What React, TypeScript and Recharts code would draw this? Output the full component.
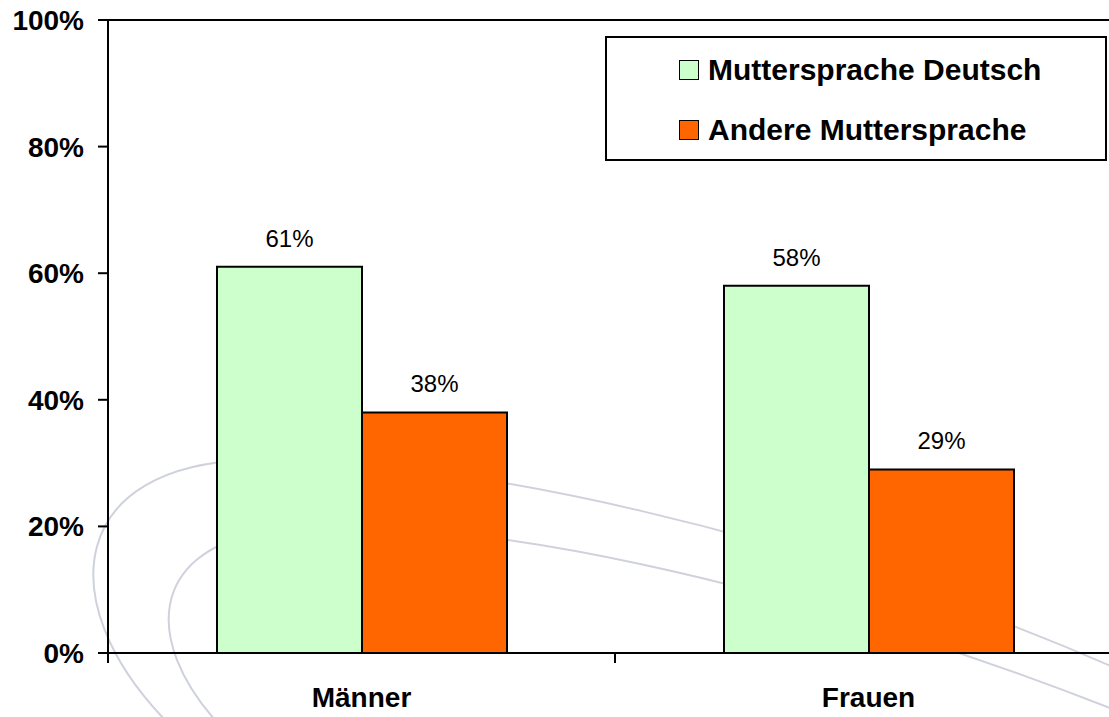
import { BarChart, Bar, XAxis, YAxis, Legend, LabelList, ReferenceLine } from "recharts";

const categories = ["Männer", "Frauen"];
const deutsch = [61, 58];
const andere = [38, 29];
const seriesNames = ["Muttersprache Deutsch", "Andere Muttersprache"];
const seriesColors = ["#CCFFCC", "#FF6600"];
const yTicks = [0, 20, 40, 60, 80, 100];

const data = categories.map((c, i) => ({ name: c, deutsch: deutsch[i], andere: andere[i] }));

const FONT = '"Liberation Sans", Arial, sans-serif';

const CategoryTick = (props: any) => {
  const { x, y, payload } = props;
  const half = payload?.offset ?? 0;
  return (
    <g>
      <line x1={x - half} x2={x - half} y1={y - 8} y2={y + 2} stroke="#000" strokeWidth={2} />
      <line x1={x + half} x2={x + half} y1={y - 8} y2={y + 2} stroke="#000" strokeWidth={2} />
      <text x={x} y={y + 46} textAnchor="middle" fontFamily={FONT} fontSize={28} fontWeight="bold" fill="#000">
        {payload.value}
      </text>
    </g>
  );
};

// legend keeps the series order of the source chart
const LegendBox = () => (
  <div
    style={{
      width: 498,
      height: 121,
      border: "2px solid #000",
      background: "#fff",
      fontFamily: FONT,
      position: "relative",
    }}
  >
    {seriesNames.map((name, i) => (
      <div
        key={name}
        style={{
          position: "absolute",
          left: 72,
          top: 17 + i * 60,
          height: 30,
          display: "flex",
          alignItems: "center",
        }}
      >
        <span
          style={{
            display: "inline-block",
            width: 18,
            height: 18,
            background: seriesColors[i],
            border: "1.5px solid #000",
            marginRight: 9,
          }}
        />
        <span style={{ fontSize: 30, fontWeight: "bold", color: "#000", lineHeight: "30px" }}>{name}</span>
      </div>
    ))}
  </div>
);

export default function App() {
  return (
    <div
      style={{
        position: "fixed",
        left: 0,
        top: 0,
        width: 1109,
        height: 717,
        overflow: "hidden",
        background: "#fff",
      }}
    >
      {/* background swooshes */}
      <svg width={1109} height={717} style={{ position: "absolute", left: 0, top: 0 }}>
        <path
          d="M 165 720 C 50 600, 70 465, 250 460 C 450 455, 800 530, 1120 670"
          fill="none"
          stroke="#cfd2dd"
          strokeWidth={2}
        />
        <path
          d="M 215 720 C 145 640, 150 555, 260 532 C 450 505, 800 585, 1120 712"
          fill="none"
          stroke="#cfd2dd"
          strokeWidth={2}
        />
      </svg>
      <div style={{ position: "absolute", left: 0, top: 0 }}>
        <BarChart
          width={1132}
          height={717}
          data={data}
          margin={{ top: 20, right: 10, bottom: 0, left: 0 }}
          barGap={0}
          barSize={145}
        >
          <XAxis
            dataKey="name"
            height={64}
            axisLine={{ stroke: "#000", strokeWidth: 2 }}
            tickLine={false}
            tick={<CategoryTick />}
            interval={0}
          />
          <YAxis
            width={108}
            domain={[0, 100]}
            ticks={yTicks}
            tickFormatter={(v: number) => `${v}%`}
            axisLine={{ stroke: "#000", strokeWidth: 2 }}
            tickLine={{ stroke: "#000", strokeWidth: 2 }}
            tickSize={10}
            tickMargin={14}
            tick={{ fontFamily: FONT, fontSize: 28, fontWeight: "bold", fill: "#000" }}
          />
          <ReferenceLine y={100} stroke="#000" strokeWidth={2} />
          <Legend
            layout="vertical"
            align="center"
            verticalAlign="middle"
            content={<LegendBox />}
            wrapperStyle={{ position: "absolute", left: 605, top: 36, width: 502, height: 125 }}
          />
          <Bar dataKey="deutsch" name={seriesNames[0]} fill={seriesColors[0]} stroke="#000" strokeWidth={2} isAnimationActive={false}>
            <LabelList
              dataKey="deutsch"
              position="top"
              offset={20}
              formatter={(v: any) => `${v}%`}
              style={{ fontFamily: FONT, fontSize: 24, fill: "#000" }}
            />
          </Bar>
          <Bar dataKey="andere" name={seriesNames[1]} fill={seriesColors[1]} stroke="#000" strokeWidth={2} isAnimationActive={false}>
            <LabelList
              dataKey="andere"
              position="top"
              offset={20}
              formatter={(v: any) => `${v}%`}
              style={{ fontFamily: FONT, fontSize: 24, fill: "#000" }}
            />
          </Bar>
        </BarChart>
      </div>
    </div>
  );
}
